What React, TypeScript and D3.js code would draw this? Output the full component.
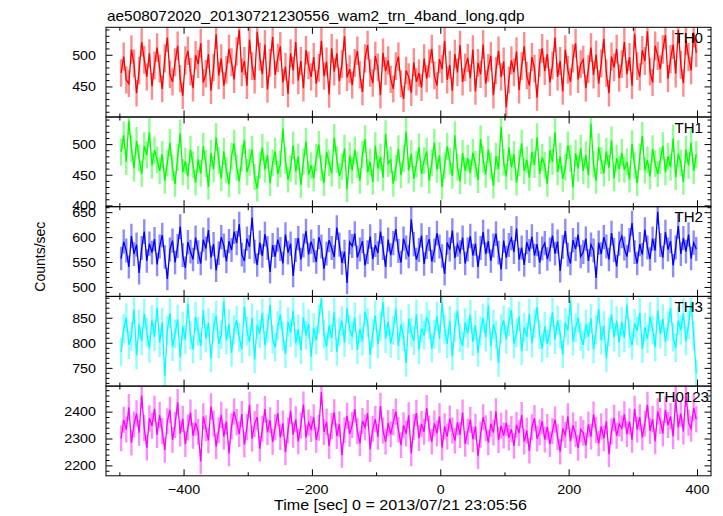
import React from "react";
import * as d3 from "d3";

const title = "ae508072020_20130721230556_wam2_trn_4band_long.qdp";
const xLabel = "Time [sec] 0 = 2013/07/21 23:05:56";
const yLabel = "Counts/sec";

const binStart = -500;
const binWidth = 4;

const xMajorTicks = [-400, -200, 0, 200, 400];
const xMinorTicks = [-500, -300, -100, 100, 300];

const panelNames = ["TH0", "TH1", "TH2", "TH3", "TH0123"];
const panelColors = ["#ff0000", "#00ff00", "#0000ff", "#00ffff", "#ff00ff"];

const th0 = [
  472, 498, 461, 455, 509, 487, 440, 476, 521, 493, 466, 503, 451, 484, 512,
  479, 447, 495, 528, 470, 458, 489, 515, 463, 436, 492, 507, 474, 448, 500,
  486, 519, 457, 471, 502, 444, 481, 533, 468, 495, 452, 477, 510, 489, 462,
  506, 540, 473, 491, 452, 525, 483, 461, 537, 498, 470, 517, 446, 488, 529,
  469, 496, 514, 457, 482, 439, 503, 476, 521, 460, 491, 448, 508, 484, 466,
  497, 455, 480, 523, 467, 490, 438, 511, 474, 503, 459, 486, 530, 465, 478,
  453, 488, 507, 469, 442, 495, 516, 472, 456, 499, 481, 437, 504, 475, 492,
  462, 447, 483, 498, 455, 431, 476, 466, 441, 489, 458, 472, 449, 495, 463,
  487, 510, 468, 452, 494, 478, 523, 461, 485, 444, 502, 473, 516, 458, 481,
  496, 464, 509, 443, 488, 470, 517, 455, 480, 499, 437, 476, 507, 466, 490,
  418, 461, 492, 473, 506, 445, 483, 514, 468, 452, 497, 479, 433, 488, 511,
  475, 502, 457, 484, 528, 466, 491, 443, 509, 477, 458, 495, 519, 462, 486,
  493, 448, 478, 512, 469, 501, 455, 487, 526, 472, 440, 498, 481, 510, 464,
  486, 521, 470, 497, 452, 534, 483, 466, 508, 491, 538, 474, 457, 515, 499,
  478, 509, 532, 463, 494, 517, 471, 540, 485, 456, 523, 497, 476, 536, 504,
];

const th1 = [
  488, 515, 472, 539, 494, 461, 506, 478, 452, 498, 483, 520, 466, 491, 475,
  457, 484, 441, 470, 503, 462, 436, 479, 518, 455, 473, 448, 492, 467, 438,
  476, 453, 497, 469, 431, 486, 460, 512, 474, 445, 489, 458, 435, 481, 502,
  463, 440, 478, 507, 455, 471, 492, 447, 428, 466, 495, 459, 483, 437, 470,
  489, 452, 468, 526, 474, 443, 461, 499, 456, 480, 434, 472, 505, 451, 466,
  445, 479, 500, 462, 437, 488, 470, 453, 511, 476, 449, 464, 494, 427, 482,
  458, 491, 467, 441, 484, 509, 455, 472, 439, 498, 461, 480, 446, 517, 469,
  475, 436, 462, 493, 450, 477, 521, 458, 485, 444, 468, 496, 452, 474, 489,
  441, 470, 503, 459, 482, 431, 466, 497, 473, 449, 515, 463, 440, 486, 457,
  478, 454, 487, 468, 442, 509, 476, 451, 492, 465, 433, 481, 460, 529, 471,
  448, 495, 463, 484, 438, 470, 502, 457, 475, 446, 488, 467, 512, 452, 479,
  466, 436, 491, 472, 520, 455, 481, 444, 463, 499, 477, 430, 486, 461, 494,
  457, 483, 450, 534, 468, 441, 496, 474, 453, 489, 462, 507, 445, 478, 460,
  487, 459, 472, 443, 501, 466, 437, 480, 514, 458, 475, 448, 493, 469, 452,
  474, 498, 455, 481, 463, 510, 447, 485, 470, 439, 492, 466, 503, 457, 484,
];

const th2 = [
  558, 592, 574, 541, 603, 567, 586, 529, 579, 612, 553, 588, 570, 597, 546,
  582, 605, 561, 517, 576, 594, 550, 583, 622, 565, 539, 591, 572, 556, 600,
  571, 548, 596, 578, 615, 560, 587, 534, 569, 601, 584, 552, 593, 575, 612,
  589, 627, 566, 553, 598, 581, 640, 572, 545, 590, 563, 607, 579, 531, 585,
  562, 596, 577, 548, 606, 570, 588, 523, 575, 599, 556, 584, 613, 566, 592,
  574, 551, 601, 582, 537, 568, 595, 579, 561, 620, 586, 549, 572, 509, 591,
  583, 608, 560, 576, 593, 544, 571, 602, 557, 585, 569, 612, 579, 541, 596,
  565, 589, 617, 573, 550, 598, 580, 562, 636, 587, 556, 575, 604, 547, 581,
  597, 552, 574, 609, 582, 563, 527, 590, 576, 614, 559, 586, 571, 600, 548,
  576, 603, 564, 588, 541, 579, 611, 567, 593, 553, 584, 608, 570, 536, 594,
  560, 585, 599, 571, 618, 556, 580, 545, 591, 573, 602, 564, 587, 550, 578,
  589, 557, 576, 604, 568, 592, 533, 581, 613, 566, 548, 595, 577, 606, 562,
  571, 598, 553, 586, 574, 519, 590, 567, 601, 582, 556, 609, 575, 542, 588,
  603, 578, 562, 595, 629, 571, 548, 587, 566, 616, 580, 557, 598, 574, 652,
  585, 560, 611, 576, 593, 544, 580, 623, 567, 599, 572, 606, 558, 590, 577,
];

const th3 = [
  783, 829, 851, 797, 814, 868, 776, 838, 805, 859, 822, 790, 847, 813, 871,
  801, 842, 735, 826, 860, 793, 819, 848, 772, 834, 807, 879, 816, 788, 853,
  824, 795, 866, 810, 841, 770, 832, 855, 799, 817, 884, 806, 839, 781, 827,
  846, 812, 789, 873, 825, 803, 851, 768, 837, 819, 860, 796, 830, 877, 808,
  792, 835, 857, 814, 779, 843, 821, 865, 800, 828, 786, 852, 816, 839, 773,
  831, 806, 848, 889, 818, 794, 836, 811, 862, 783, 823, 845, 801, 870, 827,
  815, 852, 787, 829, 804, 863, 841, 777, 820, 856, 798, 833, 882, 809, 844,
  800, 826, 869, 795, 838, 813, 761, 849, 822, 805, 858, 787, 830, 816, 853,
  837, 790, 818, 854, 809, 881, 828, 799, 845, 774, 832, 866, 811, 795, 841,
  820, 857, 803, 836, 781, 825, 850, 812, 876, 794, 838, 817, 761, 829, 846,
  808, 843, 866, 798, 821, 854, 784, 832, 813, 859, 800, 839, 872, 817, 790,
  834, 799, 824, 862, 807, 846, 819, 778, 841, 826, 885, 804, 831, 851, 813,
  797, 838, 813, 850, 788, 827, 869, 806, 835, 770, 823, 858, 812, 845, 801,
  843, 811, 877, 819, 796, 840, 825, 861, 789, 832, 809, 853, 827, 792, 866,
  818, 849, 803, 834, 871, 812, 791, 845, 826, 860, 804, 837, 882, 815, 740,
];

const th0123 = [
  2302, 2371, 2335, 2418, 2286, 2354, 2395, 2323, 2462, 2341, 2268, 2377, 2349, 2412, 2315,
  2389, 2330, 2259, 2366, 2408, 2297, 2352, 2437, 2320, 2375, 2281, 2343, 2398, 2312, 2361,
  2327, 2216, 2384, 2340, 2295, 2421, 2358, 2272, 2333, 2390, 2309, 2365, 2246, 2347, 2402,
  2363, 2318, 2393, 2279, 2345, 2427, 2301, 2356, 2382, 2264, 2338, 2411, 2325, 2370, 2289,
  2344, 2396, 2307, 2358, 2251, 2332, 2405, 2316, 2373, 2291, 2350, 2428, 2306, 2361, 2337,
  2381, 2297, 2342, 2475, 2326, 2364, 2273, 2348, 2399, 2311, 2355, 2240, 2333, 2386, 2319,
  2352, 2411, 2329, 2284, 2367, 2343, 2396, 2262, 2338, 2374, 2308, 2423, 2331, 2290, 2359,
  2317, 2363, 2402, 2334, 2277, 2351, 2320, 2388, 2246, 2345, 2397, 2303, 2356, 2327, 2415,
  2339, 2290, 2358, 2321, 2384, 2268, 2347, 2309, 2376, 2332, 2294, 2362, 2315, 2398, 2282,
  2328, 2371, 2299, 2346, 2236, 2316, 2381, 2340, 2287, 2357, 2324, 2403, 2296, 2349, 2313,
  2360, 2305, 2337, 2274, 2353, 2322, 2389, 2290, 2331, 2256, 2344, 2378, 2301, 2325, 2366,
  2298, 2345, 2281, 2330, 2372, 2307, 2253, 2339, 2315, 2384, 2292, 2351, 2318, 2267, 2336,
  2323, 2276, 2354, 2309, 2391, 2333, 2284, 2347, 2302, 2366, 2243, 2328, 2379, 2312, 2357,
  2340, 2392, 2318, 2365, 2297, 2412, 2335, 2381, 2306, 2358, 2427, 2330, 2374, 2291, 2403,
  2367, 2321, 2409, 2352, 2384, 2310, 2448, 2343, 2395, 2328, 2470, 2361, 2338, 2416, 2373,
];

const panelSeries = [th0, th1, th2, th3, th0123];
const yDomains: [number, number][] = [
  [402.5, 544.2],
  [398.7, 545],
  [482, 662],
  [714.6, 893.6],
  [2163, 2497],
];
const yMajorTicks = [
  [450, 500],
  [400, 450, 500],
  [500, 550, 600, 650],
  [750, 800, 850],
  [2200, 2300, 2400],
];
const yMinorStep = [10, 10, 10, 10, 20];

// layout
const W = 723;
const H = 516;
const left = 106;
const right = 711;
const top = 27.3;
const bottom = 475.8;
const panelH = (bottom - top) / 5;
const labelRight = [703, 703, 703, 703, 709];
const FONT = "'Liberation Sans', Arial, Helvetica, sans-serif";
const MAJ = 6.5;
const MIN = 3.5;

const fmt = (v: number) => (v < 0 ? "\u2212" + Math.abs(v) : String(v));

function SText(props: {
  x: number;
  y: number;
  anchor?: string;
  size: number;
  sx?: number;
  children: React.ReactNode;
  baseline?: string;
}) {
  const { x, y, anchor = "start", size, sx = 1.1, children, baseline } = props;
  return (
    <text
      transform={`translate(${x},${y}) scale(${sx},1)`}
      textAnchor={anchor}
      fontSize={size}
      fontFamily={FONT}
      fill="#000"
      dominantBaseline={baseline}
    >
      {children}
    </text>
  );
}

export default function App() {
  const x = d3.scaleLinear().domain([-521.6, 421]).range([left, right]);

  return (
    <svg
      width={W}
      height={H}
      viewBox={`0 0 ${W} ${H}`}
      style={{ position: "absolute", left: 0, top: 0, background: "#fff" }}
    >
      <rect x={0} y={0} width={W} height={H} fill="#fff" />
      <defs>
        {panelSeries.map((_, i) => (
          <clipPath id={`clip${i}`} key={i}>
            <rect x={left} y={top + i * panelH} width={right - left} height={panelH} />
          </clipPath>
        ))}
      </defs>

      {panelSeries.map((vals, i) => {
        const y0 = top + i * panelH;
        const y1 = y0 + panelH;
        const y = d3.scaleLinear().domain(yDomains[i]).range([y1, y0]);
        const color = panelColors[i];
        const pts: [number, number][] = vals.map((v, k) => [
          binStart + (k + 0.5) * binWidth,
          v,
        ]);
        const path = d3
          .line<[number, number]>()
          .x((d) => x(d[0]))
          .y((d) => y(d[1]))
          .curve(d3.curveLinear)(pts);
        const [dmin, dmax] = yDomains[i];
        const ms = yMinorStep[i];
        const minor = d3
          .range(Math.ceil(dmin / ms) * ms, dmax, ms)
          .filter((v) => !yMajorTicks[i].includes(v));
        return (
          <g key={i}>
            <g clipPath={`url(#clip${i})`}>
              {pts.map(([t, v], k) => {
                const e = Math.sqrt(v);
                return (
                  <line
                    key={k}
                    x1={x(t)}
                    x2={x(t)}
                    y1={y(v - e)}
                    y2={y(v + e)}
                    stroke={color}
                    strokeOpacity={0.45}
                    strokeWidth={2.4}
                  />
                );
              })}
              <path d={path || ""} fill="none" stroke={color} strokeWidth={1.3} />
            </g>
            <rect
              x={left}
              y={y0}
              width={right - left}
              height={panelH}
              fill="none"
              stroke="#000"
              strokeWidth={1}
            />
            {yMajorTicks[i].map((v) => (
              <g key={"ym" + v}>
                <line x1={left} x2={left + MAJ} y1={y(v)} y2={y(v)} stroke="#000" />
                <line x1={right} x2={right - MAJ} y1={y(v)} y2={y(v)} stroke="#000" />
                <SText x={96} y={y(v)} anchor="end" size={13} sx={1.1} baseline="central">
                  {fmt(v)}
                </SText>
              </g>
            ))}
            {minor.map((v) => (
              <g key={"yn" + v}>
                <line x1={left} x2={left + MIN} y1={y(v)} y2={y(v)} stroke="#000" />
                <line x1={right} x2={right - MIN} y1={y(v)} y2={y(v)} stroke="#000" />
              </g>
            ))}
            {xMajorTicks.map((t) => (
              <g key={"xm" + t}>
                <line x1={x(t)} x2={x(t)} y1={y0} y2={y0 + MAJ} stroke="#000" />
                <line x1={x(t)} x2={x(t)} y1={y1} y2={y1 - MAJ} stroke="#000" />
              </g>
            ))}
            {xMinorTicks.map((t) => (
              <g key={"xn" + t}>
                <line x1={x(t)} x2={x(t)} y1={y0} y2={y0 + MIN} stroke="#000" />
                <line x1={x(t)} x2={x(t)} y1={y1} y2={y1 - MIN} stroke="#000" />
              </g>
            ))}
            <SText x={labelRight[i]} y={y0 + 15.5} anchor="end" size={14} sx={1.08}>
              {panelNames[i]}
            </SText>
          </g>
        );
      })}

      {xMajorTicks.map((t) => (
        <SText key={"xl" + t} x={x(t)} y={494} anchor="middle" size={13} sx={1.1}>
          {fmt(t)}
        </SText>
      ))}

      <SText x={107} y={20.7} size={14} sx={1.1}>
        {title}
      </SText>
      <SText x={(left + right) / 2 - 8} y={509.5} anchor="middle" size={14} sx={1.15}>
        {xLabel}
      </SText>
      <text
        transform={`translate(45,256.7) rotate(-90)`}
        textAnchor="middle"
        fontSize={14}
        fontFamily={FONT}
      >
        {yLabel}
      </text>
    </svg>
  );
}
